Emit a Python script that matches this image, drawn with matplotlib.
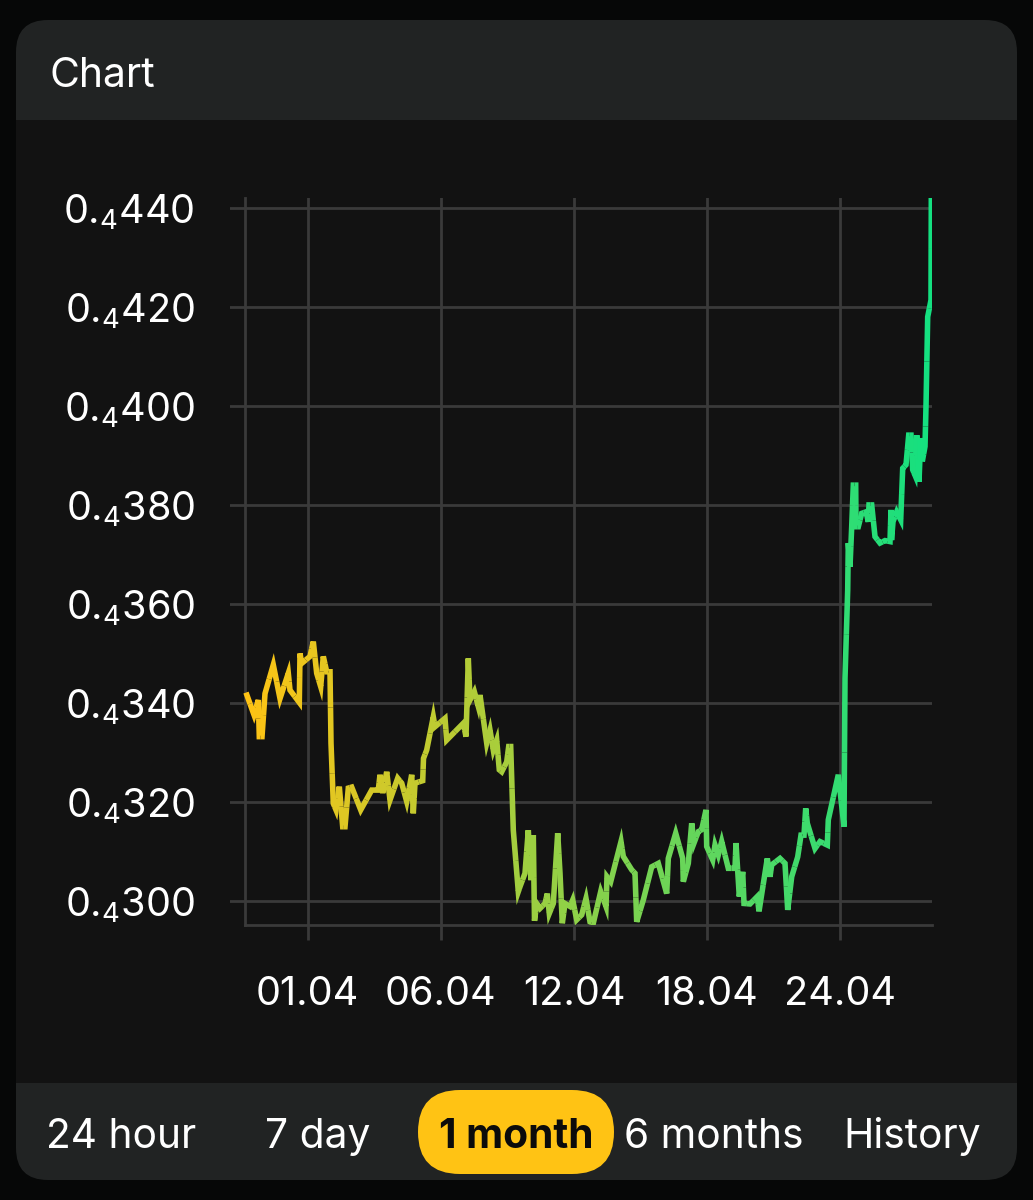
"""Price chart card: one month view with yellow to green gradient line."""
import numpy as np
import matplotlib
matplotlib.use("Agg")
import matplotlib.pyplot as plt
from matplotlib.collections import LineCollection
from matplotlib.colors import LinearSegmentedColormap
from matplotlib.patches import FancyBboxPatch, Rectangle

FONT = "Inter"
plt.rcParams["font.family"] = FONT
plt.rcParams["mathtext.fontset"] = "custom"
plt.rcParams["mathtext.rm"] = FONT
plt.rcParams["mathtext.default"] = "rm"

PAGE = "#060707"
PANEL = "#212323"
BODY = "#121212"
GRID = "#3A3A3A"
YELLOW = "#FFC314"
GREEN = "#14E080"

# hours since the start of the window
hours = [
    1, 9, 13.3, 14.3, 17, 20, 28.3, 35, 43.3, 45, 54.3, 55, 56.7, 65, 68.3, 71.7,
    75.7, 78.3, 81.7, 85, 86, 88.3, 91, 94.3, 97.7, 100, 103.3, 106.7, 115.7,
    126.7, 133.3, 135, 137.7, 141.7, 145, 152.7, 156.7, 161.7, 166.7, 168.3, 170,
    177.7, 178.5, 181.7, 188.3, 190, 200, 201.7, 218.3, 221, 223.3, 225, 229.3,
    233.3, 235, 241.7, 245, 248.3, 251.7, 254.3, 256.7, 261.7, 263.7, 265.7,
    268.3, 273.3, 275, 280, 283.3, 286, 288.3, 289.5, 291.7, 295, 300, 302.3,
    304.3, 308.3, 312.7, 315, 317.3, 320, 325, 327.7, 331.7, 336.7, 341, 345,
    348.3, 355.7, 361, 362, 365.7, 376, 378.3, 386.7, 390, 391.7, 398.3, 406.7,
    413.3, 421.7, 423.3, 430.7, 437.7, 438.3, 443.3, 446.7, 449, 453.3, 456.7,
    461, 461.7, 467.7, 470, 473.3, 476.7, 483.3, 490, 491, 494.3, 497.7, 499,
    505, 512.3, 514, 522.3, 525, 526.7, 535, 540, 542.7, 546.7, 552.7, 556, 559,
    560.7, 562.3, 570, 575, 582.3, 583.3, 593.3, 599, 600, 602.7, 603.3, 605,
    606.7, 608.3, 610.7, 611, 613.3, 616.7, 621, 623.3, 624, 626.7, 630, 635,
    640, 645, 646, 646.5, 648, 651.7, 655.7, 657.7, 661, 663.7, 666, 667.7, 670,
    671.7, 674, 675.7, 677.3, 680, 681, 682.7, 686, 686.3,
]
# price, digits after the 0.0000 prefix
price = [
    342.1, 337.6, 340.6, 333.2, 333.2, 341.9, 347.7, 340.9, 346, 342.6, 340.1, 350,
    348, 349.4, 352.4, 346, 343.3, 349.4, 346.3, 346.3, 331.9, 319.7, 318.4, 323.1,
    315, 315, 322.8, 323, 318.4, 322.4, 322.4, 325.5, 321.8, 326.1, 320.4, 324.8,
    323.8, 320.1, 325.5, 317.7, 323.8, 324.3, 328.8, 330.5, 337.2, 335.2, 336.9,
    332.5, 335.9, 333.2, 349, 340.6, 342.3, 339.3, 341.6, 331.9, 334.5, 330.5,
    332.5, 326.5, 326.1, 328.1, 331.2, 331.2, 314.3, 301.9, 302.9, 305.6, 314.3,
    304.2, 313.3, 296, 299.5, 298.5, 299.5, 301.5, 297.5, 299.5, 313.7, 305.6,
    295.5, 299.5, 298.9, 300.2, 296.2, 297.2, 300.5, 295.8, 295.5, 301.9, 298.9,
    304.9, 303.9, 312, 309, 306.3, 305.6, 295.8, 300.2, 306.9, 307.6, 301.5, 308.6,
    313.7, 308.6, 303.9, 307.6, 315.7, 311.7, 314, 314.4, 318.4, 311, 308.3, 311.3,
    309.3, 312, 306.6, 306.6, 311.7, 300.9, 305.9, 299.5, 299.4, 300.9, 297.9,
    308.6, 304.9, 307.3, 308.6, 307.6, 298.2, 304.9, 308.9, 313.3, 313.3, 318.7,
    315.7, 310.6, 312, 311.3, 316.4, 325.5, 315, 345, 362.8, 372.3, 367.5, 375.6,
    384, 384, 375.6, 375.6, 378.3, 378.6, 376.6, 380, 380, 373.6, 372.3, 372.8,
    372.6, 379, 372.9, 376.6, 378.6, 377, 387.4, 388.1, 394.1, 394.1, 387.1, 386,
    394.1, 384.7, 393.5, 388.8, 391.8, 399.9, 418, 421.4, 442,
]
y_ticks = [300, 320, 340, 360, 380, 400, 420, 440]
y_labels = [f"0.$_4${v}" for v in y_ticks]
x_ticks = [62.5, 195.5, 329, 462, 595]
x_labels = ["01.04", "06.04", "12.04", "18.04", "24.04"]
tabs = ["24 hour", "7 day", "1 month", "6 months", "History"]
tab_centers = [121, 318, 516, 714, 912]

W, H = 1033, 1200
fig = plt.figure(figsize=(W / 100, H / 100), dpi=100, facecolor=PAGE)

# card drawn in pixel coordinates
bg = fig.add_axes([0, 0, 1, 1])
bg.set_xlim(0, W)
bg.set_ylim(H, 0)
bg.axis("off")
bg.add_patch(FancyBboxPatch((16, 20), 1001, 1160, boxstyle="round,pad=0,rounding_size=32",
                            facecolor=PANEL, edgecolor="none"))
bg.add_patch(Rectangle((16, 120), 1001, 963, facecolor=BODY, edgecolor="none"))
bg.add_patch(FancyBboxPatch((418, 1090), 196, 84, boxstyle="round,pad=0,rounding_size=42",
                            facecolor=YELLOW, edgecolor="none"))
bg.text(50, 72, "Chart", color="white", fontsize=29.5, ha="left", va="center_baseline")
for label, cx in zip(tabs, tab_centers):
    active = label == "1 month"
    bg.text(cx, 1133, label, color="#0B0B0B" if active else "white", fontsize=29.3,
            ha="center", va="center_baseline", fontweight="bold" if active else "normal")

# plot area, px 230..932 across and 198..925 down
ax = fig.add_axes([230 / W, 1 - 925 / H, 702 / W, 727 / H])
ax.set_facecolor("none")
ax.set_xlim(-15, 687)
ax.set_ylim(295.15, 442)
ax.set_axisbelow(True)
ax.grid(True, color=GRID, lw=2)
for side in ("top", "right"):
    ax.spines[side].set_visible(False)
ax.spines["left"].set_position(("data", 0))
ax.spines["left"].set_color(GRID)
ax.spines["left"].set_linewidth(2)
ax.spines["bottom"].set_color(GRID)
ax.spines["bottom"].set_linewidth(2)
ax.spines["bottom"].set_bounds(0, 687)

ax.set_xticks(x_ticks, x_labels)
ax.set_yticks(y_ticks, y_labels)
ax.tick_params(axis="x", length=11, width=2, color=GRID, pad=26, labelsize=28.5, labelcolor="white")
ax.tick_params(axis="y", length=0, pad=36, labelsize=28.5, labelcolor="white")

# each piece runs midpoint-vertex-midpoint so the corners keep their miter spikes
t = np.array(hours)
p = np.array(price)
pts = np.column_stack([t, p])
mids = (pts[:-1] + pts[1:]) / 2
starts = np.vstack([pts[:1], mids])
ends = np.vstack([mids, pts[-1:]])
pieces = np.stack([starts, pts, ends], axis=1)
cmap = LinearSegmentedColormap.from_list("trend", [YELLOW, GREEN])
lines = LineCollection(pieces, cmap=cmap, linewidths=4.0, capstyle="butt", joinstyle="miter", zorder=3)
lines.set_array(t)
lines.set_clim(t.min(), t.max())
ax.add_collection(lines)

fig.savefig("out.png", dpi=100, facecolor=PAGE)
